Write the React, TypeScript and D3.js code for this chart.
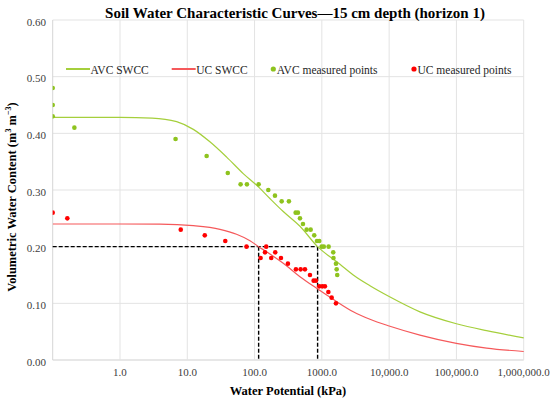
import React from "react";
import * as d3 from "d3";

// ---- data ----
const xTickValues = [1, 10, 100, 1000, 10000, 100000, 1000000];
const xTickLabels = ["1.0", "10.0", "100.0", "1000.0", "10,000.0", "100,000.0", "1,000,000.0"];
const yTickValues = [0, 0.1, 0.2, 0.3, 0.4, 0.5, 0.6];

// AVC fitted SWCC (kPa, m3/m3)
const avcCurve: [number, number][] = [
  [0.1, 0.428], [1, 0.428], [3, 0.427], [6.95, 0.4206], [12.3, 0.407], [21.7, 0.385],
  [38.5, 0.358], [67.9, 0.329], [113, 0.306], [169, 0.285], [267, 0.262], [473, 0.236],
  [865, 0.2], [1858, 0.169], [2930, 0.15], [5190, 0.131], [10000, 0.112], [28700, 0.085],
  [100000, 0.064], [281000, 0.0517], [1000000, 0.039],
];
// UC fitted SWCC
const ucCurve: [number, number][] = [
  [0.1, 0.24], [1, 0.24], [3.9, 0.2398], [12.3, 0.237], [30.6, 0.2306], [54, 0.222],
  [85.5, 0.2106], [115, 0.2], [151, 0.191], [267, 0.1706], [473, 0.147], [837, 0.1265],
  [1476, 0.107], [2930, 0.085], [5190, 0.0718], [10000, 0.06], [28700, 0.044],
  [100000, 0.0294], [281000, 0.021], [1000000, 0.015],
];
// measured points
const avcPoints: [number, number][] = [
  [0.1, 0.48], [0.1, 0.45], [0.1, 0.43], [0.21, 0.41], [6.7, 0.39], [19.4, 0.36], [40, 0.33],
  [62, 0.31], [77, 0.31], [115, 0.31], [160, 0.3], [201, 0.29], [253, 0.28], [324, 0.28],
  [408, 0.26], [441, 0.26], [473, 0.25], [524, 0.24], [594, 0.23], [682, 0.23], [771, 0.22],
  [846, 0.21], [915, 0.21], [993, 0.2], [1070, 0.2], [1262, 0.2], [1477, 0.19], [1490, 0.18],
  [1621, 0.17], [1660, 0.16], [1694, 0.15],
];
const ucPoints: [number, number][] = [
  [0.1, 0.26], [0.165, 0.25], [8.0, 0.23], [18.2, 0.22], [36.7, 0.21], [76, 0.2], [123, 0.18],
  [143, 0.19], [149, 0.2], [177, 0.18], [203, 0.19], [247, 0.18], [313, 0.17], [412, 0.16],
  [484, 0.16], [561, 0.16], [666, 0.15], [755, 0.14], [817, 0.14], [915, 0.13], [1014, 0.13],
  [1111, 0.13], [1250, 0.12], [1399, 0.11], [1621, 0.1],
];
// reference dashed lines: theta = 0.20 at UC and AVC crossing
const refTheta = 0.2;
const refPotentials = [115, 865];

const legendItems = [
  { label: "AVC SWCC", kind: "line", color: "#a5cf3c" },
  { label: "UC SWCC", kind: "line", color: "#f5595b" },
  { label: "AVC measured points", kind: "dot", color: "#8ec31e" },
  { label: "UC measured points", kind: "dot", color: "#ff0000" },
];

const W = 550;
const H = 402;
const M = { left: 52.7, right: 523.7, top: 20, bottom: 360 };
const FONT = "'Liberation Serif', 'Times New Roman', serif";

export default function App() {
  const x = d3.scaleLog().domain([0.1, 1000000]).range([M.left, M.right]);
  const y = d3.scaleLinear().domain([0, 0.6]).range([M.bottom, M.top]);
  const line = d3
    .line<[number, number]>()
    .x((d) => x(d[0]))
    .y((d) => y(d[1]))
    .curve(d3.curveMonotoneX);

  const legendX = [66, 171.7, 273.3, 414];

  return (
    <svg
      width={W}
      height={H}
      viewBox={`0 0 ${W} ${H}`}
      style={{ position: "absolute", left: 0, top: 0, background: "#fff" }}
      fontFamily={FONT}
    >
      <defs>
        <clipPath id="plotClip">
          <rect x={M.left} y={M.top - 5} width={M.right - M.left + 5} height={M.bottom - M.top + 5} />
        </clipPath>
      </defs>
      <rect width={W} height={H} fill="#fff" />

      {/* grid */}
      {yTickValues.map((v) => (
        <line key={"gy" + v} x1={M.left} x2={M.right} y1={y(v)} y2={y(v)}
          stroke={v === 0 ? "#cfcfcf" : "#e3e3e3"} strokeWidth={1} />
      ))}
      {xTickValues.map((v) => (
        <line key={"gx" + v} x1={x(v)} x2={x(v)} y1={M.top} y2={M.bottom} stroke="#e3e3e3" strokeWidth={1} />
      ))}
      <line x1={M.left} x2={M.left} y1={M.top} y2={M.bottom} stroke="#d6d6d6" strokeWidth={1} />

      {/* y tick labels */}
      {yTickValues.map((v) => (
        <text key={"ty" + v} x={46} y={y(v) + 1.5} textAnchor="end" dominantBaseline="central"
          fontSize={11} fill="#404040">
          {v.toFixed(2)}
        </text>
      ))}
      {/* x tick labels */}
      {xTickValues.map((v, i) => (
        <text key={"tx" + v} x={x(v)} y={372} textAnchor="middle" dominantBaseline="central"
          fontSize={11} fill="#404040">
          {xTickLabels[i]}
        </text>
      ))}

      {/* dashed reference lines */}
      <g stroke="#000" strokeWidth={1.4} strokeDasharray="4,2" fill="none">
        <line x1={M.left} x2={x(refPotentials[1])} y1={y(refTheta)} y2={y(refTheta)} />
        {refPotentials.map((p) => (
          <line key={"r" + p} x1={x(p)} x2={x(p)} y1={y(refTheta)} y2={y(0)} />
        ))}
      </g>

      {/* curves */}
      <g clipPath="url(#plotClip)">
        <path d={line(avcCurve) || ""} fill="none" stroke={legendItems[0].color} strokeWidth={1.2} />
        <path d={line(ucCurve) || ""} fill="none" stroke={legendItems[1].color} strokeWidth={1.2} />
        {avcPoints.map((d, i) => (
          <circle key={"a" + i} cx={x(d[0])} cy={y(d[1])} r={2.3} fill={legendItems[2].color} />
        ))}
        {ucPoints.map((d, i) => (
          <circle key={"u" + i} cx={x(d[0])} cy={y(d[1])} r={2.3} fill={legendItems[3].color} />
        ))}
      </g>

      {/* legend */}
      {legendItems.map((it, i) => {
        const lx = legendX[i];
        const ly = 69;
        return (
          <g key={"lg" + i}>
            {it.kind === "line" ? (
              <line x1={lx} x2={lx + 24} y1={ly} y2={ly} stroke={it.color} strokeWidth={2} />
            ) : (
              <circle cx={lx} cy={ly} r={2.6} fill={it.color} />
            )}
            <text x={it.kind === "line" ? lx + 24.5 : lx + 3.5} y={ly + 1} dominantBaseline="central"
              fontSize={11.5} fill="#262626">
              {it.label}
            </text>
          </g>
        );
      })}

      {/* title */}
      <text x={295} y={12.5} textAnchor="middle" dominantBaseline="central" fontSize={15}
        fontWeight="bold" fill="#000">
        Soil Water Characteristic Curves—15 cm depth (horizon 1)
      </text>

      {/* axis titles */}
      <text x={288} y={391} textAnchor="middle" dominantBaseline="central" fontSize={12.5}
        fontWeight="bold" fill="#000">
        Water Potential (kPa)
      </text>
      <text transform={`translate(12,${(M.top + M.bottom) / 2 + 7}) rotate(-90)`} textAnchor="middle"
        dominantBaseline="central" fontSize={12.5} fontWeight="bold" fill="#000">
        Volumetric Water Content (m
        <tspan dy={-4} fontSize={8}>3</tspan>
        <tspan dy={4}> m</tspan>
        <tspan dy={-4} fontSize={8}>−3</tspan>
        <tspan dy={4}>)</tspan>
      </text>
    </svg>
  );
}
